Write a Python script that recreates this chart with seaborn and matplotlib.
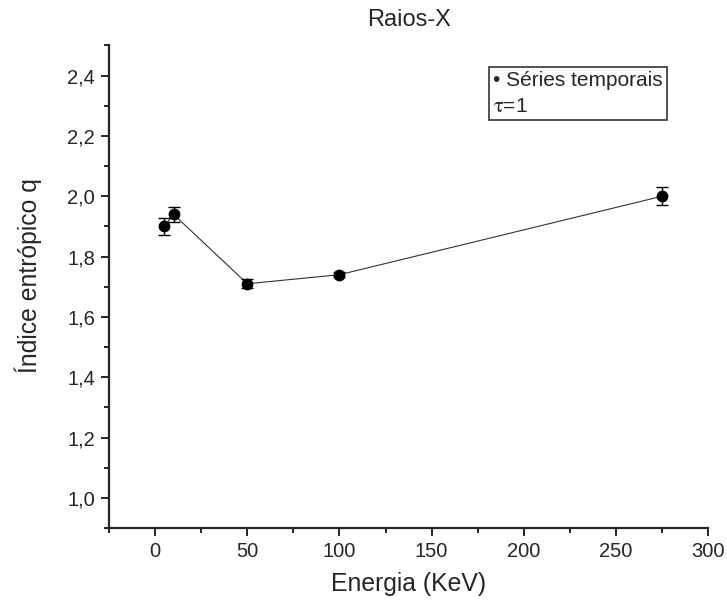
import numpy as np
import pandas as pd
import matplotlib
matplotlib.use("Agg")
import matplotlib.pyplot as plt
import matplotlib.ticker as mticker
import seaborn as sns

# Data
energia = [5, 10, 50, 100, 275]
indice_q = [1.90, 1.94, 1.71, 1.74, 2.00]
erro_q = [0.028, 0.024, 0.015, 0.008, 0.030]

sns.set_style("ticks")
plt.rcParams["font.family"] = ["Liberation Sans", "DejaVu Sans"]
plt.rcParams["mathtext.fontset"] = "stix"

df = pd.DataFrame({"Energia": energia, "q": indice_q, "err": erro_q})

fig = plt.figure(figsize=(7.27, 6.05), dpi=100)
ax = fig.add_axes([0.150, 0.127, 0.824, 0.798])

sns.lineplot(data=df, x="Energia", y="q", color="#333333", linewidth=0.8,
             ax=ax, legend=False)
ax.errorbar(df["Energia"], df["q"], yerr=df["err"], fmt="o", color="black",
            markersize=7.5, capsize=4, elinewidth=1, capthick=1)

ax.set_xlim(-25, 300)
ax.set_ylim(0.9, 2.5)
ax.xaxis.set_major_locator(mticker.MultipleLocator(50))
ax.xaxis.set_minor_locator(mticker.MultipleLocator(25))
ax.yaxis.set_major_locator(mticker.MultipleLocator(0.2))
ax.yaxis.set_minor_locator(mticker.MultipleLocator(0.1))
ax.yaxis.set_major_formatter(mticker.FuncFormatter(lambda v, p: f"{v:.1f}".replace(".", ",")))
ax.tick_params(which="major", length=6, width=1.4, labelsize=14.5, direction="out", pad=4)
ax.tick_params(which="minor", length=3.5, width=1.4, direction="out")
for s in ["left", "bottom"]:
    ax.spines[s].set_linewidth(1.6)
sns.despine(ax=ax)

ax.set_xlabel("Energia (KeV)", fontsize=17.8, labelpad=8)
ax.set_ylabel("Índice entrópico q", fontsize=17.8)
ax.yaxis.set_label_coords(-0.112, 0.523)
ax.set_title("Raios-X", fontsize=17, pad=14)

ax.text(0.641, 0.946, "• Séries temporais\n$\\mathrm{\\tau}$=1", transform=ax.transAxes,
        fontsize=15, va="top", ha="left", linespacing=1.45,
        bbox=dict(boxstyle="square,pad=0.2", facecolor="white",
                  edgecolor="#333333", linewidth=1.2))

fig.savefig("out.png", dpi=100)
